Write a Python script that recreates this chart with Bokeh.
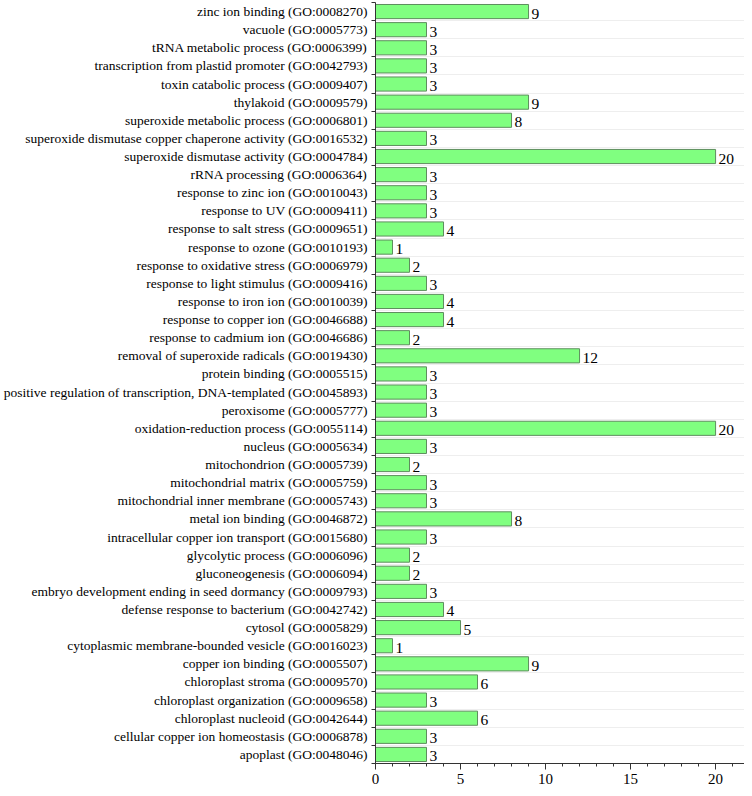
from bokeh.plotting import figure
from bokeh.models import FixedTicker, ColumnDataSource, Range1d
from bokeh.core.properties import value
from bokeh.embed import file_html
from bokeh.resources import INLINE

terms = [
    "zinc ion binding (GO:0008270)",
    "vacuole (GO:0005773)",
    "tRNA metabolic process (GO:0006399)",
    "transcription from plastid promoter (GO:0042793)",
    "toxin catabolic process (GO:0009407)",
    "thylakoid (GO:0009579)",
    "superoxide metabolic process (GO:0006801)",
    "superoxide dismutase copper chaperone activity (GO:0016532)",
    "superoxide dismutase activity (GO:0004784)",
    "rRNA processing (GO:0006364)",
    "response to zinc ion (GO:0010043)",
    "response to UV (GO:0009411)",
    "response to salt stress (GO:0009651)",
    "response to ozone (GO:0010193)",
    "response to oxidative stress (GO:0006979)",
    "response to light stimulus (GO:0009416)",
    "response to iron ion (GO:0010039)",
    "response to copper ion (GO:0046688)",
    "response to cadmium ion (GO:0046686)",
    "removal of superoxide radicals (GO:0019430)",
    "protein binding (GO:0005515)",
    "positive regulation of transcription, DNA-templated (GO:0045893)",
    "peroxisome (GO:0005777)",
    "oxidation-reduction process (GO:0055114)",
    "nucleus (GO:0005634)",
    "mitochondrion (GO:0005739)",
    "mitochondrial matrix (GO:0005759)",
    "mitochondrial inner membrane (GO:0005743)",
    "metal ion binding (GO:0046872)",
    "intracellular copper ion transport (GO:0015680)",
    "glycolytic process (GO:0006096)",
    "gluconeogenesis (GO:0006094)",
    "embryo development ending in seed dormancy (GO:0009793)",
    "defense response to bacterium (GO:0042742)",
    "cytosol (GO:0005829)",
    "cytoplasmic membrane-bounded vesicle (GO:0016023)",
    "copper ion binding (GO:0005507)",
    "chloroplast stroma (GO:0009570)",
    "chloroplast organization (GO:0009658)",
    "chloroplast nucleoid (GO:0042644)",
    "cellular copper ion homeostasis (GO:0006878)",
    "apoplast (GO:0048046)",
]
counts = [9, 3, 3, 3, 3, 9, 8, 3, 20, 3, 3, 3, 4, 1, 2, 3, 4, 4, 2, 12, 3, 3, 3, 20,
          3, 2, 3, 3, 8, 3, 2, 2, 3, 4, 5, 1, 9, 6, 3, 6, 3, 3]
x_ticks = [0, 5, 10, 15, 20]

n = len(terms)
ypos = [n - 1 - i for i in range(n)]
src = ColumnDataSource(dict(y=ypos, v=counts, lab=[str(c) for c in counts]))

FONT = "'Liberation Serif', 'Times New Roman', serif"
p = figure(width=744, height=786, output_backend="svg", toolbar_location=None,
           x_range=Range1d(0, 21.7), y_range=Range1d(-0.5, n - 0.5),
           min_border_top=2, min_border_right=0, min_border_left=0)
p.outline_line_color = None
p.background_fill_color = "white"

p.hbar(y="y", right="v", left=0, height=0.78, source=src,
       fill_color="#80FF80", line_color="#5E8E5E", line_width=1)
p.text(x="v", y="y", text="lab", source=src, x_offset=3, y_offset=2,
       text_font=value(FONT), text_font_size="15.5px", text_baseline="middle",
       text_align="left", text_color="black")

p.yaxis.ticker = FixedTicker(ticks=ypos, minor_ticks=[k - 0.5 for k in range(n + 1)])
p.yaxis.major_label_overrides = {y: t for y, t in zip(ypos, terms)}
p.yaxis.major_tick_out = 0
p.yaxis.major_tick_in = 0
p.yaxis.minor_tick_out = 4
p.yaxis.minor_tick_in = 0
p.yaxis.major_label_standoff = 4
p.yaxis.major_label_text_font = FONT
p.yaxis.major_label_text_font_size = "13.5px"
p.yaxis.major_label_text_color = "black"
p.yaxis.axis_line_color = "#333333"
p.yaxis.minor_tick_line_color = "#333333"

p.xaxis.ticker = FixedTicker(ticks=x_ticks, minor_ticks=[k for k in range(0, 22)])
p.xaxis.major_tick_out = 6
p.xaxis.major_tick_in = 0
p.xaxis.minor_tick_out = 3
p.xaxis.minor_tick_in = 0
p.xaxis.major_label_standoff = 4
p.xaxis.major_label_text_font = FONT
p.xaxis.major_label_text_font_size = "15px"
p.xaxis.major_label_text_color = "black"
p.xaxis.axis_line_color = "#333333"
p.xaxis.major_tick_line_color = "#333333"
p.xaxis.minor_tick_line_color = "#333333"

p.xgrid.grid_line_color = None
p.ygrid.grid_line_color = None
p.ygrid.minor_grid_line_color = "#EEEEEE"

open("out.html", "w").write(file_html(p, INLINE))
